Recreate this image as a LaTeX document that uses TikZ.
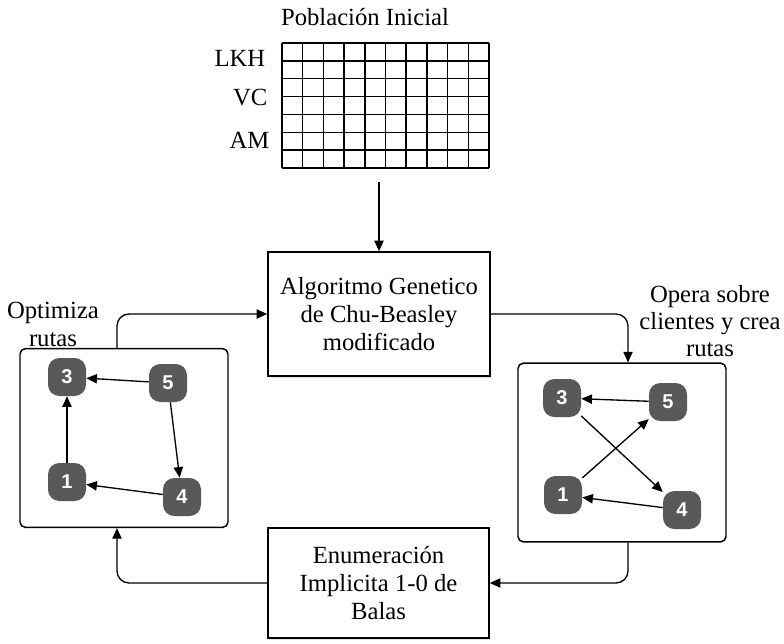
\documentclass[tikz,border=0pt]{standalone}
\usepackage{fontspec}
\setmainfont{Liberation Serif}
\newfontfamily\numfont{Liberation Sans}
\usetikzlibrary{arrows.meta,calc,shadows}
\begin{document}
\begin{tikzpicture}[x=0.75pt,y=-0.75pt,
  every node/.style={font=\fontsize{18.5}{21}\selectfont},
  bigbox/.style={draw,line width=1.2pt,fill=white,inner sep=0pt,align=center,
    drop shadow={opacity=0.25,shadow xshift=1pt,shadow yshift=-1.2pt}},
  panel/.style={draw,line width=1.1pt,rounded corners=4pt,inner sep=0pt,
    minimum width=156pt,minimum height=134pt},
  num/.style={fill=black!65,rounded corners=8.5pt,minimum width=28.5pt,minimum height=28.5pt,
    inner sep=0pt,text=white,font=\numfont\bfseries\fontsize{15}{15}\selectfont},
  lbl/.style={align=center},
  conn/.style={line width=1pt,-{Triangle[length=8pt,width=7pt]}},
  flow/.style={line width=1pt,rounded corners=9pt,-{Triangle[length=8pt,width=7pt]}},
  gline/.style={line width=1.1pt}]
\useasboundingbox (0,0) rectangle (784,643);

% title and population grid
\node (title) at (365,17) {Población Inicial};
\node[minimum width=155.25pt,minimum height=93.75pt,inner sep=0pt] (grid) at (385.5,105.5) {};
\foreach \i in {0,...,10} \draw[gline] (282+\i*20.7,43) -- (282+\i*20.7,168);
\foreach \j in {0,...,7} \draw[gline] (282,43+\j*17.857) -- (489,43+\j*17.857);
\node[anchor=east] (lkh) at (270,58) {LKH};
\node[anchor=east] (vc) at (272,98) {VC};
\node[anchor=east] (am) at (274,140) {AM};

% main boxes
\node[bigbox,minimum width=166.5pt,minimum height=93pt] (main) at (379,314)
  {Algoritmo Genetico\\de Chu-Beasley\\modificado};
\node[bigbox,minimum width=165.75pt,minimum height=82.5pt] (bot) at (378.5,583)
  {Enumeración\\Implicita 1-0 de\\Balas};

% panels
\node[panel] (lbox) at (124,438) {};
\node[panel] (rbox) at (622,452.5) {};

% panel labels
\node[lbl] (lopt) at (53,324) {Optimiza\\rutas};
\node[lbl,font=\fontsize{18.5}{20}\selectfont] (ropt) at (710,321) {Opera sobre\\clientes y crea\\rutas};

% left panel graph
\node[num] (l3) at (67,377) {3};
\node[num] (l5) at (168,383) {5};
\node[num] (l1) at (67,482) {1};
\node[num] (l4) at (182,497) {4};
\draw[conn] (l5) -- (l3);
\draw[conn] (l5) -- (l4);
\draw[conn] (l4) -- (l1);
\draw[conn] (l1) -- (l3);

% right panel graph
\node[num] (r3) at (562,398) {3};
\node[num] (r5) at (668,402) {5};
\node[num] (r1) at (563,495) {1};
\node[num] (r4) at (682,510) {4};
\draw[conn] (r5) -- (r3);
\draw[conn] (r3) -- (r4);
\draw[conn] (r1) -- (r5);
\draw[conn] (r4) -- (r1);

% flow connectors
\draw[conn,shorten <=10.5pt] (main.north |- grid.south) -- (main.north);
\draw[flow] ($(lbox.north)+(-7,0)$) |- (main.west);
\draw[flow] (main.east) -| ($(rbox.north)+(6,0)$);
\draw[flow] ($(rbox.south)+(6,0)$) |- (bot.east);
\draw[flow] (bot.west) -| ($(lbox.south)+(-7,0)$);
\end{tikzpicture}
\end{document}
